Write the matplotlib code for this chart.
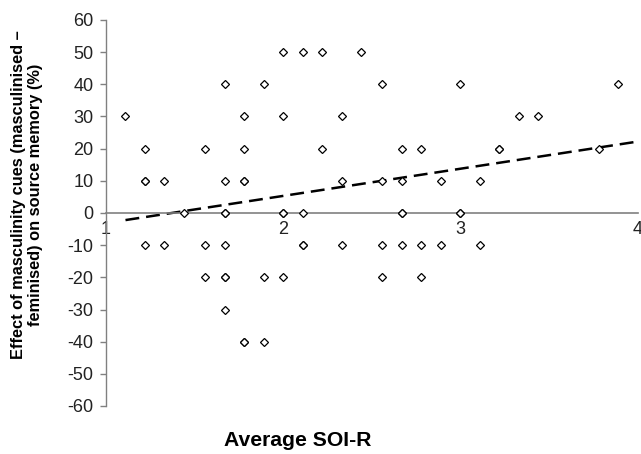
import numpy as np
import matplotlib.pyplot as plt

plt.rcParams['font.family'] = ['Liberation Sans', 'DejaVu Sans']
plt.rcParams['lines.scale_dashes'] = False
plt.rcParams['axes.unicode_minus'] = False

# Average SOI-R scores and source-memory effect (%); repeated pairs are overlapping points
soi_r = [2.00, 2.11, 2.22, 2.44,
         1.67, 1.89, 2.56, 3.00, 3.89,
         1.11, 1.78, 2.00, 2.33, 3.33, 3.44,
         1.22, 1.56, 1.78, 2.22, 2.67, 2.78, 3.22, 3.22, 3.78,
         1.22, 1.22, 1.33, 1.67, 1.78, 1.78, 2.33, 2.56, 2.67, 2.89, 3.11,
         1.44, 1.67, 1.67, 2.00, 2.00, 2.11, 2.67, 2.67, 3.00, 3.00,
         1.22, 1.33, 1.56, 1.67, 2.11, 2.11, 2.33, 2.56, 2.67, 2.78, 2.89, 3.11,
         1.56, 1.67, 1.67, 1.89, 2.00, 2.56, 2.78,
         1.67,
         1.78, 1.78, 1.89]
effect = [50, 50, 50, 50,
          40, 40, 40, 40, 40,
          30, 30, 30, 30, 30, 30,
          20, 20, 20, 20, 20, 20, 20, 20, 20,
          10, 10, 10, 10, 10, 10, 10, 10, 10, 10, 10,
          0, 0, 0, 0, 0, 0, 0, 0, 0, 0,
          -10, -10, -10, -10, -10, -10, -10, -10, -10, -10, -10, -10,
          -20, -20, -20, -20, -20, -20, -20,
          -30,
          -40, -40, -40]

# linear trend line
trend_x = [1.11, 4.0]
trend_y = [-2.2, 22.2]

x_ticks = [1, 2, 3, 4]
y_ticks = list(range(-60, 61, 10))

fig = plt.figure(figsize=(6.41, 4.54), dpi=100)
ax = fig.add_axes([106 / 641, 1 - 406 / 454, 531.5 / 641, 386 / 454])

ax.plot(soi_r, effect, linestyle='none', marker='D', markersize=3.8,
        markerfacecolor='white', markeredgecolor='black', markeredgewidth=0.9, zorder=3)
ax.plot(trend_x, trend_y, color='black', linewidth=1.8, dashes=(10, 5), zorder=2)

ax.set_xlim(1, 4)
ax.set_ylim(-60, 60)
ax.set_xticks(x_ticks)
ax.set_yticks(y_ticks)

for s in ['top', 'right']:
    ax.spines[s].set_visible(False)
ax.spines['bottom'].set_position(('data', 0))
ax.spines['bottom'].set_color('#808080')
ax.spines['left'].set_color('#808080')
ax.spines['bottom'].set_linewidth(1.2)
ax.spines['left'].set_linewidth(1.0)

ax.tick_params(axis='x', length=0, pad=6, labelsize=13, colors='#222222')
ax.tick_params(axis='y', length=4, width=1, color='#808080', labelsize=13,
               labelcolor='#222222', pad=5)

fig.text(298 / 641, 1 - 441 / 454, 'Average SOI-R', ha='center', va='center',
         fontsize=15.2, fontweight='bold')
fig.text(27 / 641, 1 - 195 / 454,
         'Effect of masculinity cues (masculinised \u2013\nfeminised) on source memory (%)',
         ha='center', va='center', rotation=90, fontsize=11.8, fontweight='bold',
         linespacing=1.15)

fig.savefig('out.png', dpi=100)
